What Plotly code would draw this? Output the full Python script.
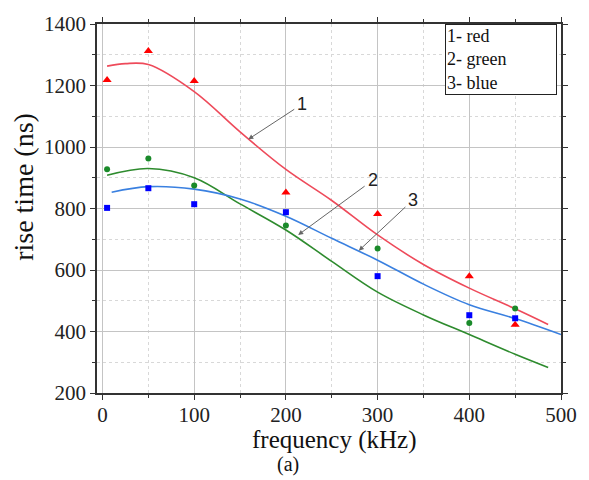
import plotly.graph_objects as go

# measured points
freq_pts = [5, 50, 100, 200, 300, 400, 450]
red_pts = [1218, 1312, 1215, 852, 782, 580, 422]
green_pts = [928, 963, 875, 745, 670, 428, 475]
blue_pts = [802, 866, 814, 788, 580, 453, 443]

# fitted curves
red_fit_x = [5, 25, 50, 100, 150, 200, 250, 300, 350, 400, 450, 486]
red_fit_y = [1263, 1271, 1268, 1180, 1049, 927, 826, 714, 618, 541, 474, 423]
green_fit_x = [5, 50, 100, 150, 200, 250, 300, 350, 400, 450, 486]
green_fit_y = [908, 930, 900, 815, 730, 628, 528, 454, 390, 326, 283]
blue_fit_x = [10, 50, 100, 150, 200, 250, 300, 350, 400, 450, 500]
blue_fit_y = [853, 871, 863, 831, 775, 703, 632, 554, 487, 442, 390]

x_ticks = [0, 100, 200, 300, 400, 500]
y_ticks = [200, 400, 600, 800, 1000, 1200, 1400]

SERIF = "Liberation Serif"
SANS = "Liberation Sans"

fig = go.Figure()
fig.add_trace(go.Scatter(x=red_fit_x, y=red_fit_y, mode="lines", line=dict(color="#ee4a5a", width=1.6, shape="spline", smoothing=1), showlegend=False))
fig.add_trace(go.Scatter(x=green_fit_x, y=green_fit_y, mode="lines", line=dict(color="#2e8b2e", width=1.6, shape="spline", smoothing=1), showlegend=False))
fig.add_trace(go.Scatter(x=blue_fit_x, y=blue_fit_y, mode="lines", line=dict(color="#3a80e0", width=1.6, shape="spline", smoothing=1), showlegend=False))
fig.add_trace(go.Scatter(x=freq_pts, y=red_pts, mode="markers", marker=dict(symbol="triangle-up", color="#ff0000", size=8), showlegend=False))
fig.add_trace(go.Scatter(x=freq_pts, y=green_pts, mode="markers", marker=dict(symbol="circle", color="#1a8a2a", size=6), showlegend=False))
fig.add_trace(go.Scatter(x=freq_pts, y=blue_pts, mode="markers", marker=dict(symbol="square", color="#0000ff", size=6), showlegend=False))

axis_common = dict(
    showline=True, linecolor="#333", linewidth=1.5, mirror="ticks",
    ticks="outside", ticklen=5, tickcolor="#333",
    showgrid=True, gridcolor="#c4c4c4", gridwidth=1,
    zeroline=False,
    tickfont=dict(family=SERIF, size=21, color="#222"),
)
fig.update_xaxes(range=[-6, 500], tickvals=x_ticks, ticktext=[str(v) for v in x_ticks],
                 ticklabelstandoff=-3,
                 minor=dict(dtick=50, tick0=0, ticks="outside", ticklen=3, showgrid=True, gridcolor="#d8d8d8", griddash="dot"),
                 **axis_common)
fig.update_yaxes(range=[200, 1400], tickvals=y_ticks, ticktext=[str(v) for v in y_ticks],
                 minor=dict(dtick=100, tick0=0, ticks="outside", ticklen=3, showgrid=True, gridcolor="#d8d8d8", griddash="dot"),
                 **axis_common)

annotations = []
for label, (tx, ty), (hx, hy) in [("1", (218, 1140), (159, 1025)),
                                  ("2", (294.7, 892), (213.4, 714)),
                                  ("3", (339, 829), (279.5, 663))]:
    annotations.append(dict(x=hx, y=hy, xref="x", yref="y", ax=tx, ay=ty, axref="x", ayref="y",
                            text=label, showarrow=True, arrowhead=2, arrowsize=1, arrowwidth=1,
                            arrowcolor="#666", standoff=0, startstandoff=2,
                            font=dict(family=SANS, size=18, color="#222")))
annotations.append(dict(x=0.751, y=1.0, xref="paper", yref="paper", xanchor="left", yanchor="top",
                        text="1- red<br>2- green<br>3- blue", align="left", showarrow=False,
                        bordercolor="#222", borderwidth=1, borderpad=1, bgcolor="white", width=108,
                        font=dict(family=SERIF, size=18, color="#111")))
annotations.append(dict(x=0.512, y=-0.128, xref="paper", yref="paper", xanchor="center", yanchor="middle",
                        text="frequency (kHz)", showarrow=False, font=dict(family=SERIF, size=25, color="#111")))
annotations.append(dict(x=-0.16, y=0.558, xref="paper", yref="paper", xanchor="center", yanchor="middle",
                        text="rise time (ns)", textangle=-90, showarrow=False, font=dict(family=SERIF, size=28, color="#111")))
annotations.append(dict(x=0.411, y=-0.193, xref="paper", yref="paper", xanchor="center", yanchor="middle",
                        text="(a)", showarrow=False, font=dict(family=SERIF, size=20, color="#111")))

fig.update_layout(
    width=589, height=480,
    margin=dict(l=97, r=25, t=17, b=87),
    plot_bgcolor="white", paper_bgcolor="white",
    annotations=annotations,
    showlegend=False,
)
fig.write_html("out.html")
